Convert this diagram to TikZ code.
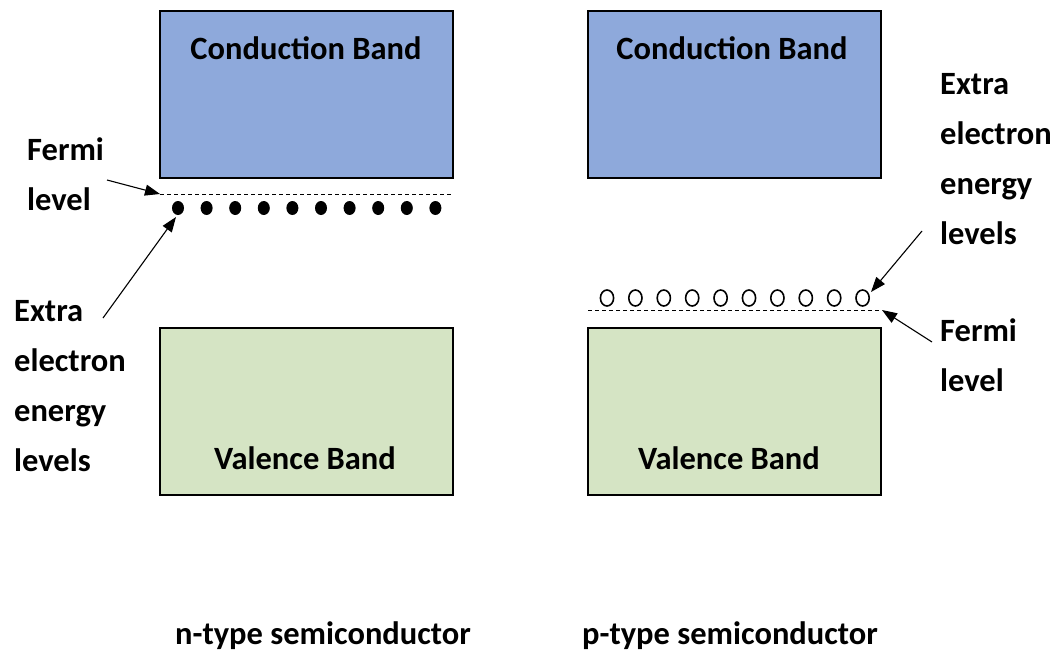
\documentclass[tikz,border=0pt]{standalone}
\usepackage{fontspec}
\setmainfont{Carlito}
\usetikzlibrary{arrows.meta}
\definecolor{cbblue}{HTML}{8EA9DB}
\definecolor{vbgreen}{HTML}{D5E4C4}
\tikzset{
  band/.style={draw=black, line width=2pt, inner sep=0pt, minimum width=293pt, minimum height=167pt},
  bandlabel/.style={font=\fontsize{32.5}{36}\selectfont\bfseries, inner sep=0pt},
  sidelabel/.style={font=\fontsize{32.5}{50}\selectfont\bfseries, align=left, inner sep=0pt, anchor=north west},
  caption/.style={font=\fontsize{32.5}{36}\selectfont\bfseries, inner sep=0pt},
  fermi/.style={dashed, dash pattern=on 4pt off 3pt, line width=0.9pt},
  pointer/.style={line width=1.1pt, -{Triangle[length=15pt,width=11pt]}},
}
\begin{document}
\begin{tikzpicture}[x=1pt, y=-1pt]
  \useasboundingbox (0,0) rectangle (1061,659);

  % n-type bands
  \node[band, fill=cbblue] (cbn) at (306.5,94.5) {};
  \node[band, fill=vbgreen] (vbn) at (306.5,411) {};
  \node[bandlabel] (cbnl) at (306,48) {Conduction Band};
  \node[bandlabel] (vbnl) at (305,458) {Valence Band};

  % p-type bands
  \node[band, fill=cbblue] (cbp) at (734,94.5) {};
  \node[band, fill=vbgreen] (vbp) at (734,411) {};
  \node[bandlabel] (cbpl) at (732,48) {Conduction Band};
  \node[bandlabel] (vbpl) at (729,458) {Valence Band};

  % n-type: Fermi level and donor levels
  \coordinate (fnA) at (160,194);
  \coordinate (fnB) at (453,194);
  \draw[fermi] (fnA) -- (fnB);
  \foreach \i in {0,...,9}
    \fill (178+28.6*\i,208) ellipse (6 and 7);
  \coordinate (dn) at (176,217);

  % p-type: Fermi level and acceptor levels
  \coordinate (fpA) at (588,310);
  \coordinate (fpB) at (882,310);
  \draw[fermi] (fpA) -- (fpB);
  \foreach \i in {0,...,9}
    \draw[line width=1.6pt] (607+28.4*\i,298) ellipse (6.6 and 8);
  \coordinate (ap) at (871,292);

  % side labels
  \node[sidelabel] (fermin) at (27,137) {Fermi\\level};
  \node[sidelabel] (extran) at (14,300) {Extra\\electron\\energy\\levels};
  \node[sidelabel] (extrap) at (940,73) {Extra\\electron\\energy\\levels};
  \node[sidelabel] (fermip) at (940,318) {Fermi\\level};

  % pointers
  \coordinate (fnS) at (107,180);
  \coordinate (enS) at (103,318);
  \coordinate (epS) at (922,231);
  \coordinate (fpS) at (932,342);
  \draw[pointer] (fnS) -- (fnA);
  \draw[pointer] (enS) -- (dn);
  \draw[pointer] (epS) -- (ap);
  \draw[pointer] (fpS) -- (fpB);

  % captions
  \node[caption] (capn) at (323,636) {n-type semiconductor};
  \node[caption] (capp) at (730,636) {p-type semiconductor};
\end{tikzpicture}
\end{document}
